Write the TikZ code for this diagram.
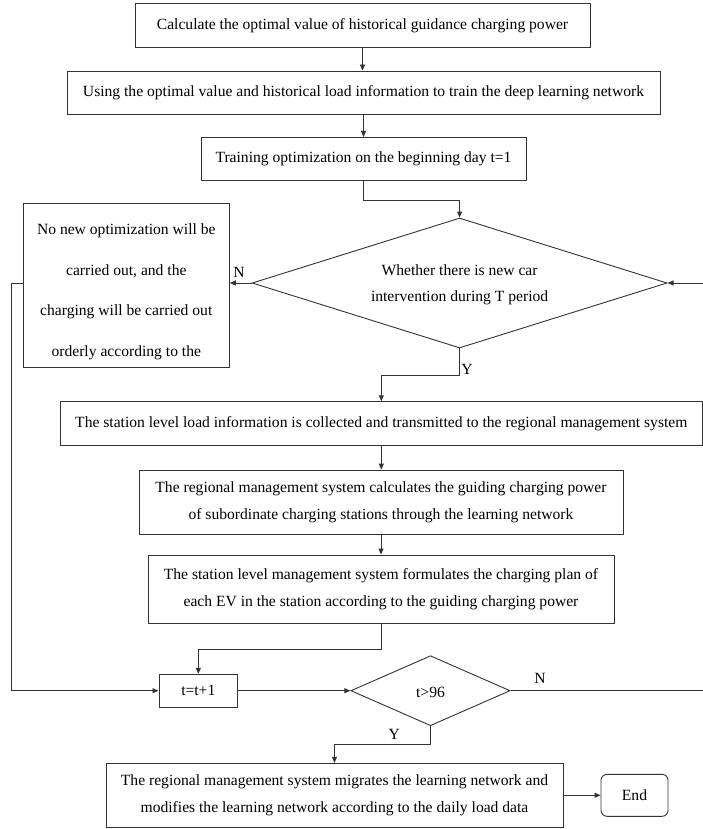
\documentclass[tikz,border=0pt]{standalone}
\usepackage{fontspec}
\setmainfont{Liberation Serif}
\usetikzlibrary{shapes.geometric,arrows.meta}
\begin{document}
\begin{tikzpicture}[x=1pt,y=-1pt,
  line/.style={draw=black!80, line width=0.9pt},
  box/.style={line, rectangle, inner sep=0pt, align=center, font=\fontsize{15.6}{27.5}\selectfont},
  dec/.style={line, diamond, inner sep=0pt},
  txt/.style={inner sep=0pt, align=center},
  lbl/.style={inner sep=0pt, font=\fontsize{15.6}{16}\selectfont},
  arr/.style={line, -{Triangle[length=6pt,width=5pt]}}]
\useasboundingbox (0,0) rectangle (703,829);
\node[box, minimum width=455, minimum height=43.5] (b1) at (362.5,25.7) {Calculate the optimal value of historical guidance charging power};
\node[box, minimum width=593, minimum height=43] (b2) at (363.5,92.5) {Using the optimal value and historical load information to train the deep learning network};
\node[box, minimum width=325, minimum height=43.5] (b3) at (363.5,159.2) {Training optimization on the beginning day t=1};
\node[dec, minimum width=415, minimum height=130] (d1) at (459.6,283) {};
\node[txt, font=\fontsize{15.6}{26.5}\selectfont] (d1t) at (459.6,285) {Whether there is new car\\intervention during T period};
\node[box, minimum width=206, minimum height=163.7] (nb) at (126.3,285.2) {};
\node[txt, font=\fontsize{15.6}{40.5}\selectfont] (nbt) at (126.3,292) {No new optimization will be\\carried out, and the\\charging will be carried out\\orderly according to the};
\node[box, minimum width=642.7, minimum height=44] (b4) at (381.3,423.7) {The station level load information is collected and transmitted to the regional management system};
\node[box, minimum width=484, minimum height=64.3] (b5) at (381,502.2) {The regional management system calculates the guiding charging power\\of subordinate charging stations through the learning network};
\node[box, minimum width=466, minimum height=68.3] (b6) at (381,589.2) {The station level management system formulates the charging plan of\\each EV in the station according to the guiding charging power};
\node[box, minimum width=78.7, minimum height=32.7] (tb) at (198.3,690.7) {t=t+1};
\node[dec, minimum width=159.3, minimum height=70] (d2) at (430.5,690.7) {};
\node[txt, font=\fontsize{15.6}{16}\selectfont] (d2t) at (430.5,692) {t>96};
\node[box, minimum width=457, minimum height=64] (b7) at (334.5,795.3) {The regional management system migrates the learning network and\\modifies the learning network according to the daily load data};
\node[box, rounded corners=6pt, minimum width=67, minimum height=42] (en) at (634.5,795.3) {End};
\coordinate (rc) at (706,690.7);
% labels
\node[lbl] (n1) at (239,272) {N};
\node[lbl] (y1) at (467,369) {Y};
\node[lbl] (n2) at (540,678) {N};
\node[lbl] (y2) at (394.3,734) {Y};
% connectors
\draw[arr] (b1.south) -- (b1.south |- b2.north);
\draw[arr] (b2.south) -- (b2.south |- b3.north);
\draw[arr] (b3.south) -- ++(0,18.8) -| (d1.north);
\draw[arr] (d1.west) -- (d1.west -| nb.east);
\draw[arr] (nb.west |- d1.west) -- ++(-11.6,0) |- (tb.west);
\draw[arr] (d1.south) -- ++(0,27) -| (b4.north);
\draw[arr] (b4.south) -- (b4.south |- b5.north);
\draw[arr] (b5.south) -- (b5.south |- b6.north);
\draw[arr] (b6.south) -- ++(0,26) -| (tb.north);
\draw[arr] (tb.east) -- (d2.west);
\draw[arr] (d2.east) -- (rc) |- (d1.east);
\draw[arr] (d2.south) -- ++(0,18) -| (b7.north);
\draw[arr] (b7.east |- en.west) -- (en.west);
\end{tikzpicture}
\end{document}
